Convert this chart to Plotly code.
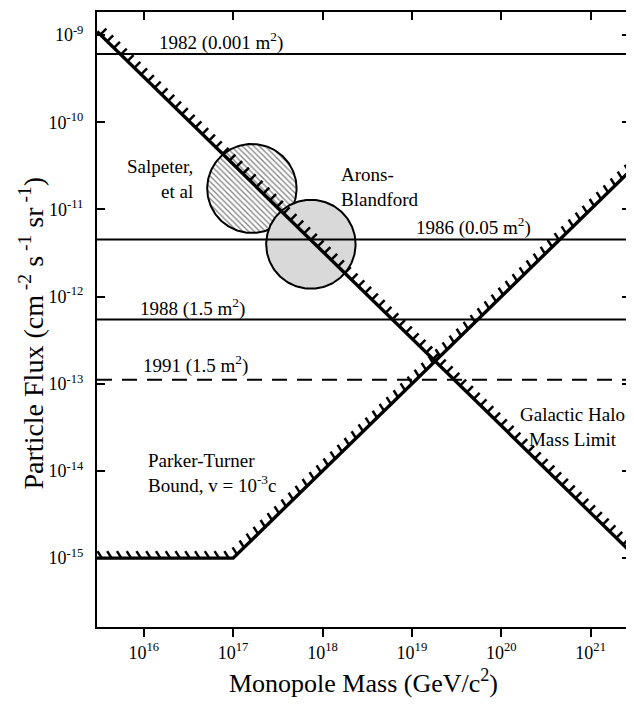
import numpy as np
import plotly.graph_objects as go

# ---------------- data ----------------
exp_labels = ["1982 (0.001 m<sup>2</sup>)", "1986 (0.05 m<sup>2</sup>)",
              "1988 (1.5 m<sup>2</sup>)", "1991 (1.5 m<sup>2</sup>)"]
exp_flux = [6.05e-10, 4.5e-12, 5.45e-13, 1.11e-13]
exp_dashed = [False, False, False, True]

parker_mass = [3e15, 1e17, 3e21]
parker_flux = [1e-15, 1e-15, 3e-11]

halo_mass = [3e15, 3e21]
halo_flux = [1.1e-9, 1.1e-15]

# circles: centre (log10 mass, log10 flux), radius in decades (x, y)
circ_names = ["Salpeter", "Arons-Blandford"]
circ_cx = [17.21, 17.87]
circ_cy = [-10.76, -11.40]
circ_rx = [0.50, 0.50]
circ_ry = [0.51, 0.51]

xtick_vals = [1e16, 1e17, 1e18, 1e19, 1e20, 1e21]
xtick_text = ["10<sup>16</sup>", "10<sup>17</sup>", "10<sup>18</sup>",
              "10<sup>19</sup>", "10<sup>20</sup>", "10<sup>21</sup>"]
ytick_vals = [1e-9, 1e-10, 1e-11, 1e-12, 1e-13, 1e-14, 1e-15]
ytick_text = ["10<sup>-9</sup>", "10<sup>-10</sup>", "10<sup>-11</sup>", "10<sup>-12</sup>",
              "10<sup>-13</sup>", "10<sup>-14</sup>", "10<sup>-15</sup>"]

# ---------------- layout geometry ----------------
# the page body has an 8px margin, so the figure is 8px smaller
W, H = 626, 703
MARG = dict(l=89, r=2, t=4, b=84, pad=0)
XR = [np.log10(3e15), 21.44]
YR = [-15.79, -8.736]
kx = (W - MARG["l"] - MARG["r"]) / (XR[1] - XR[0])
ky = (H - MARG["t"] - MARG["b"]) / (YR[1] - YR[0])
FONT = "Liberation Serif, Times New Roman, serif"


def hatch(mass, flux, vec, step):
    sx = np.log10(mass) * kx
    sy = -np.log10(flux) * ky
    hx, hy = [], []
    d0 = step / 2
    for i in range(len(sx) - 1):
        dx, dy = sx[i + 1] - sx[i], sy[i + 1] - sy[i]
        L = np.hypot(dx, dy)
        d = d0
        while d < L:
            px = sx[i] + dx * d / L
            py = sy[i] + dy * d / L
            for a, b in ((px, py), (px + vec[0], py + vec[1])):
                hx.append(10 ** (a / kx))
                hy.append(10 ** (-b / ky))
            hx.append(None)
            hy.append(None)
            d += step
        d0 = d - L
    return hx, hy


fig = go.Figure()

# circles
theta = np.linspace(0, 2 * np.pi, 181)
styles = [
    dict(fillcolor="white", fillpattern=dict(shape="\\", size=4, solidity=0.35,
                                              fgcolor="#111", bgcolor="white")),
    dict(fillcolor="#d9d9d9"),
]
for i in range(2):
    cxs = 10 ** (circ_cx[i] + circ_rx[i] * np.cos(theta))
    cys = 10 ** (circ_cy[i] + circ_ry[i] * np.sin(theta))
    fig.add_trace(go.Scatter(x=cxs, y=cys, mode="lines", fill="toself",
                             line=dict(color="black", width=2),
                             name=circ_names[i], **styles[i]))

# experimental limits
for lab, fl, dsh in zip(exp_labels, exp_flux, exp_dashed):
    fig.add_trace(go.Scatter(x=[3e15, 3e21], y=[fl, fl], mode="lines",
                             line=dict(color="black", width=2,
                                       dash="15px,10px" if dsh else "solid"),
                             name=lab))

# hatching
hx, hy = hatch(halo_mass, halo_flux, (6.0, -6.0), 9.5)
fig.add_trace(go.Scatter(x=hx, y=hy, mode="lines", line=dict(color="black", width=2.5),
                         connectgaps=False))
hx, hy = hatch(parker_mass, parker_flux, (-4.5, -7.0), 9.8)
fig.add_trace(go.Scatter(x=hx, y=hy, mode="lines", line=dict(color="black", width=2.5),
                         connectgaps=False))

# bounds
fig.add_trace(go.Scatter(x=halo_mass, y=halo_flux, mode="lines",
                         line=dict(color="black", width=3.4), name="Galactic Halo"))
fig.add_trace(go.Scatter(x=parker_mass, y=parker_flux, mode="lines",
                         line=dict(color="black", width=3.4), name="Parker-Turner"))

# invisible trace for top axis
fig.add_trace(go.Scatter(x=[1e16], y=[1e-12], xaxis="x2", mode="markers",
                         marker=dict(opacity=0), hoverinfo="skip"))

ann_font = dict(family=FONT, size=19, color="black")
anns = [
    (exp_labels[0], 16.86, -9.08, "center"),
    (exp_labels[1], 19.69, -11.20, "center"),
    (exp_labels[2], 16.55, -12.13, "center"),
    (exp_labels[3], 16.575, -12.78, "center"),
    ("Salpeter,<br>et al", 16.57, -10.65, "right"),
    ("Arons-<br>Blandford", 18.19, -10.74, "left"),
    ("Parker-Turner<br>Bound, v = 10<sup>-3</sup>c", 16.03, -14.02, "left"),
    ("Galactic Halo<br>Mass Limit", 20.80, -13.50, "center"),
]
for txt, ax_, ay_, al in anns:
    fig.add_annotation(x=ax_, y=ay_, xref="x", yref="y", text=txt, showarrow=False,
                       xanchor=al, yanchor="middle", align=al, font=ann_font)

# y-axis title (as annotation, to place it like the reference)
fig.add_annotation(x=-0.123, y=0.478, xref="paper", yref="paper", textangle=-90,
                   text="Particle Flux (cm<sup> -2</sup> s<sup> -1</sup> sr<sup> -1</sup>)",
                   showarrow=False, xanchor="center", yanchor="middle",
                   font=dict(size=28, family=FONT, color="black"))

axis_common = dict(type="log", showgrid=False, zeroline=False, color="black",
                   tickcolor="black", tickwidth=2, ticklen=8)
fig.update_layout(
    width=W, height=H, margin=MARG, showlegend=False,
    paper_bgcolor="white", plot_bgcolor="white",
    font=dict(family=FONT, color="black"),
    xaxis=dict(range=XR, tickvals=xtick_vals, ticktext=xtick_text, ticks="outside",
               showline=True, linewidth=2, linecolor="black", mirror=True,
               tickfont=dict(size=18, family=FONT),
               title=dict(text="Monopole Mass (GeV/c<sup>2</sup>)",
                          font=dict(size=26, family=FONT), standoff=12),
               **axis_common),
    xaxis2=dict(range=XR, tickvals=xtick_vals, ticks="inside", overlaying="x",
                side="top", showticklabels=False, showline=False, **axis_common),
    yaxis=dict(range=YR, tickvals=ytick_vals, ticktext=ytick_text, ticks="inside",
               showline=True, linewidth=2, linecolor="black", mirror="ticks",
               ticklabelstandoff=8,
               tickfont=dict(size=18, family=FONT),
               **axis_common),
)

fig.write_html("out.html")
